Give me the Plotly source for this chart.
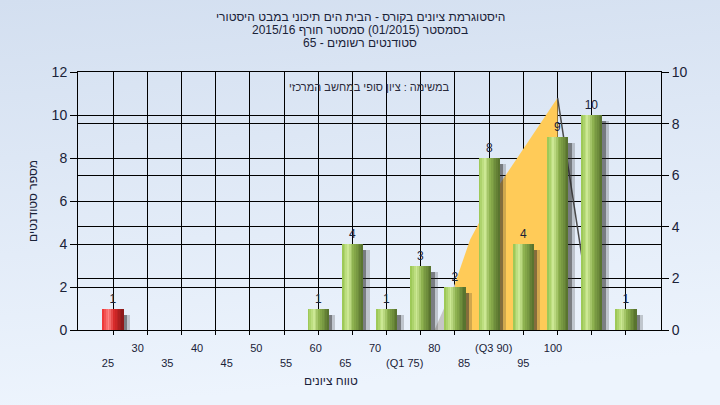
import base64
import plotly.graph_objects as go

# ---------------- data ----------------
categories = [25, 30, 35, 40, 45, 50, 55, 60, 65, 70, 75, 80, 85, 90, 95, 100]
counts = [1, 0, 0, 0, 0, 0, 1, 4, 1, 3, 2, 8, 4, 9, 10, 1]
tick_labels = ["25", "30", "35", "40", "45", "50", "55", "60", "65", "70",
               "(Q1 75)", "80", "85", "(Q3 90)", "95", "100"]
failing_max = 25  # grade ranges up to this value are highlighted red

# quartile band curve (right-axis units)
iqr_x = [75, 77.2, 81.4, 90]
iqr_y = [1.8, 3.5, 5.6, 9.0]
low_tail_x = [72, 75]
low_tail_y = [0, 1.8]
high_tail_x = [90, 95.2]
high_tail_y = [9.0, 0]

title_lines = [
    "היסטוגרמת ציונים בקורס - הבית הים תיכוני במבט היסטורי",
    "בסמסטר (01/2015) סמסטר חורף 2015/16",
    "סטודנטים רשומים - 65",
]
note_text = "במשימה : ציון סופי במחשב המרכזי"
x_title = "טווח ציונים"
y_title = "מספר סטודנטים"

# ---------------- style ----------------
FONT = "Liberation Sans, Arial, DejaVu Sans, sans-serif"
TXT = "#1a2238"
BAR_W = 3.1
N_SLICES = 12
GREEN_STOPS = [(0.0, (150, 196, 78)), (0.3, (206, 233, 150)), (0.55, (140, 176, 78)), (1.0, (84, 110, 44))]
RED_STOPS = [(0.0, (235, 45, 45)), (0.3, (255, 135, 135)), (0.55, (215, 40, 40)), (1.0, (135, 25, 25))]


def interp(stops, t):
    for (t0, c0), (t1, c1) in zip(stops, stops[1:]):
        if t0 <= t <= t1:
            f = (t - t0) / (t1 - t0)
            return "rgb(%d,%d,%d)" % tuple(round(a + (b - a) * f) for a, b in zip(c0, c1))
    return "rgb(%d,%d,%d)" % stops[-1][1]


fig = go.Figure()

# band (base subplot, right axis) drawn beneath the bars
fig.add_trace(go.Scatter(x=low_tail_x + [low_tail_x[-1]], y=low_tail_y + [0], fill="toself",
                         fillcolor="#c6c6c6", line=dict(width=0), mode="lines",
                         hoverinfo="skip", showlegend=False, xaxis="x", yaxis="y"))
fig.add_trace(go.Scatter(x=iqr_x + [iqr_x[-1], iqr_x[0]], y=iqr_y + [0, 0], fill="toself",
                         fillcolor="#ffcb58", line=dict(width=0), mode="lines",
                         hoverinfo="skip", showlegend=False, xaxis="x", yaxis="y"))
fig.add_trace(go.Scatter(x=high_tail_x, y=high_tail_y, mode="lines",
                         line=dict(color="#4a4a4a", width=1.5),
                         hoverinfo="skip", showlegend=False, xaxis="x", yaxis="y"))
# helper for label axis
fig.add_trace(go.Scatter(x=[None], y=[None], xaxis="x2", yaxis="y", showlegend=False, hoverinfo="skip"))

# shadows
shadow_y = [max(v - 0.28, 0) for v in counts]
for dx, alpha in [(0.95, 0.22), (0.5, 0.45)]:
    fig.add_trace(go.Bar(x=categories, y=shadow_y, width=BAR_W, offset=-BAR_W / 2 + dx,
                         marker=dict(color="rgba(40,40,40,%.2f)" % alpha, line=dict(width=0)),
                         hoverinfo="skip", showlegend=False, xaxis="x", yaxis="y2"))

# base bar with value labels
base_cols = ["rgb(135,25,25)" if c <= failing_max else "rgb(84,110,44)" for c in categories]
fig.add_trace(go.Bar(x=categories, y=counts, width=BAR_W, offset=-BAR_W / 2,
                     marker=dict(color=base_cols, line=dict(width=0)),
                     text=[str(v) if v > 0 else "" for v in counts], textposition="outside",
                     textfont=dict(family=FONT, size=12, color=TXT), cliponaxis=False,
                     showlegend=False, xaxis="x", yaxis="y2"))

# cylinder shading slices
sw = BAR_W / N_SLICES
for k in range(N_SLICES):
    t = (k + 0.5) / N_SLICES
    cols = [interp(RED_STOPS, t) if c <= failing_max else interp(GREEN_STOPS, t) for c in categories]
    fig.add_trace(go.Bar(x=categories, y=counts, width=sw * (1.15 if k < N_SLICES - 1 else 1.0),
                         offset=-BAR_W / 2 + k * sw,
                         marker=dict(color=cols, line=dict(width=0)),
                         hoverinfo="skip", showlegend=False, xaxis="x", yaxis="y2"))

# background gradient
svg = ("<svg xmlns='http://www.w3.org/2000/svg' width='720' height='405' preserveAspectRatio='none'>"
       "<defs><linearGradient id='g' x1='0' y1='0' x2='0.15' y2='1'>"
       "<stop offset='0' stop-color='#d3dff0'/><stop offset='1' stop-color='#edf4fd'/>"
       "</linearGradient></defs><rect width='720' height='405' fill='url(#g)'/></svg>")
bg_src = "data:image/svg+xml;base64," + base64.b64encode(svg.encode()).decode()

L, R, T, B = 78, 59, 72, 75
PW, PH = 720 - L - R, 405 - T - B

axis_common = dict(showline=True, linecolor="black", linewidth=1, ticks="outside",
                   tickcolor="black", showgrid=True, gridcolor="black", gridwidth=1,
                   zeroline=False, tickfont=dict(family=FONT, size=14, color=TXT))

fig.update_layout(
    width=720, height=405,
    margin=dict(l=L, r=R, t=T, b=B, pad=0),
    paper_bgcolor="#e0e9f6", plot_bgcolor="#b4b4b4",
    barmode="overlay", bargap=0,
    showlegend=False,
    font=dict(family=FONT, size=11, color=TXT),
    xaxis=dict(range=[19.88, 105.12], tickvals=categories, showticklabels=False,
               ticks="outside", ticklen=4, tickcolor="black",
               showgrid=True, gridcolor="black", gridwidth=1, zeroline=False,
               showline=True, linecolor="black", mirror=True),
    xaxis2=dict(overlaying="x", anchor="y", side="bottom", range=[-1.011, 18.64],
                tickvals=list(range(len(tick_labels))),
                ticktext=[lbl if i % 2 else "<br>" + lbl for i, lbl in enumerate(tick_labels)],
                ticks="outside", ticklen=8, tickcolor="rgba(0,0,0,0)",
                showgrid=False, zeroline=False, showline=False,
                tickfont=dict(family=FONT, size=11, color=TXT)),
    yaxis=dict(range=[0, 10], dtick=2, side="right", ticklen=7, **axis_common),
    yaxis2=dict(range=[0, 12], dtick=2, side="left", overlaying="y", ticklen=7, **axis_common),
    images=[dict(source=bg_src, xref="paper", yref="paper", x=-L / PW, y=1 + T / PH,
                 sizex=720 / PW, sizey=405 / PH, xanchor="left", yanchor="top",
                 sizing="stretch", layer="below")],
)

ann = []
for line, cy in zip(title_lines, [17, 30, 43]):
    ann.append(dict(text=line, xref="paper", yref="paper", x=(360 - L) / PW, y=(405 - B - cy) / PH,
                    showarrow=False, xanchor="center", yanchor="middle",
                    font=dict(family=FONT, size=12, color=TXT)))
ann.append(dict(text=note_text, xref="paper", yref="paper", x=(369 - L) / PW, y=(405 - B - 87) / PH,
                showarrow=False, xanchor="center", yanchor="middle",
                font=dict(family=FONT, size=11, color="#2a2a3a")))
ann.append(dict(text=x_title, xref="x2", yref="paper", x=7.5, y=(405 - B - 381) / PH,
                showarrow=False, xanchor="center", yanchor="middle",
                font=dict(family=FONT, size=12, color=TXT)))
ann.append(dict(text=y_title, xref="paper", yref="paper", x=(33 - L) / PW, y=0.5,
                showarrow=False, xanchor="center", yanchor="middle", textangle=-90,
                font=dict(family=FONT, size=12, color=TXT)))
fig.update_layout(annotations=ann)

fig.write_html("out.html", config={"displayModeBar": False},
               post_script="document.body.style.margin='0px';")
